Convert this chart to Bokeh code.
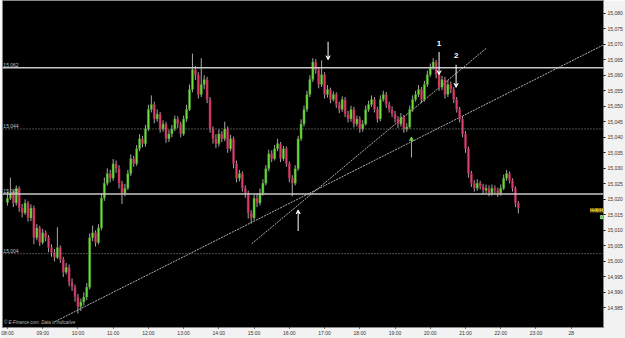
from bokeh.plotting import figure
from bokeh.models import (Span, Label, ColumnDataSource, FixedTicker, NumeralTickFormatter,
                          Arrow, VeeHead)
from bokeh.embed import file_html
from bokeh.resources import INLINE

# 5-minute candles starting 08:00
open_ = [15019.0,15020.4,15022.0,15018.8,15023.6,15017.2,15015.6,15018.8,15014.0,15017.2,
15007.6,15010.8,15006.1,15009.2,15007.6,15004.5,15002.9,15001.3,15004.5,15000.6,
14996.5,14998.1,14993.3,14991.7,14988.5,14985.4,14986.9,14988.5,14991.7,15007.6,
15009.2,15006.1,15010.8,15020.4,15025.2,15028.3,15026.8,15031.5,15029.9,15025.2,
15022.0,15023.6,15028.3,15033.1,15031.5,15036.3,15039.5,15037.9,15042.7,15049.0,
15050.6,15045.9,15047.5,15042.7,15044.3,15039.5,15041.1,15042.7,15045.9,15044.3,
15041.1,15045.9,15049.0,15055.4,15061.8,15060.2,15053.8,15057.0,15058.6,15052.2,
15042.7,15039.5,15037.9,15041.1,15039.5,15042.7,15036.3,15039.5,15031.5,15026.8,
15028.3,15023.6,15022.0,15015.6,15014.0,15020.4,15018.8,15022.0,15025.2,15029.9,
15034.7,15033.1,15036.3,15037.9,15033.1,15036.3,15031.5,15026.8,15025.2,15029.9,
15039.5,15044.3,15049.0,15053.8,15058.6,15064.3,15061.8,15057.0,15060.2,15053.8,
15055.4,15052.2,15053.8,15050.6,15049.0,15052.2,15047.5,15045.9,15049.0,15044.3,
15045.9,15042.7,15044.3,15049.0,15050.6,15052.2,15049.0,15045.9,15052.2,15053.8,
15050.6,15049.0,15047.5,15045.9,15044.3,15046.5,15042.7,15043.3,15049.0,15052.2,
15053.8,15055.4,15052.2,15057.0,15060.2,15062.4,15064.3,15060.2,15056.1,15058.6,
15053.8,15057.0,15055.4,15052.2,15049.0,15045.9,15041.1,15036.3,15028.3,15025.2,
15023.6,15025.2,15024.2,15022.9,15023.6,15022.0,15023.6,15022.9,15022.0,15023.6,
15026.8,15028.3,15026.1,15023.6,15018.8]
high = [15022.5,15027.0,15023.0,15024.5,15024.2,15018.5,15020.0,15019.5,15018.4,15018.0,
15012.0,15011.5,15010.5,15010.0,15008.5,15005.5,15004.0,15011.0,15005.2,15001.5,
14999.5,14999.0,14994.5,14992.5,14989.5,14988.0,14990.0,14993.0,15009.0,15011.5,
15010.0,15012.0,15022.0,15027.0,15030.0,15029.5,15033.0,15032.5,15031.0,15026.0,
15025.0,15029.5,15034.5,15034.0,15037.5,15041.0,15040.5,15044.0,15050.5,15053.5,
15051.5,15049.0,15048.2,15045.5,15045.0,15042.5,15044.0,15047.0,15046.8,15045.0,
15047.0,15050.5,15057.0,15067.0,15063.0,15061.0,15065.5,15060.0,15059.5,15053.0,
15043.5,15041.0,15042.5,15042.0,15045.0,15043.5,15040.8,15040.2,15032.5,15029.5,
15029.0,15024.5,15022.8,15016.5,15021.5,15021.8,15023.5,15026.5,15031.0,15036.0,
15035.8,15037.5,15039.5,15038.5,15037.2,15037.0,15032.2,15027.8,15031.0,15040.5,
15045.8,15050.2,15055.0,15060.0,15065.5,15065.2,15062.5,15064.8,15061.0,15056.8,
15056.0,15054.8,15054.5,15051.5,15053.2,15053.0,15048.5,15050.2,15049.8,15047.0,
15046.8,15045.5,15050.2,15051.8,15053.5,15053.0,15049.8,15053.5,15055.0,15054.6,
15051.5,15050.0,15048.5,15046.8,15047.8,15047.2,15044.5,15050.2,15053.5,15055.0,
15056.8,15056.2,15058.2,15061.5,15063.8,15065.5,15065.0,15061.0,15059.8,15059.5,
15058.5,15058.0,15056.2,15053.0,15049.8,15046.8,15042.0,15037.0,15029.2,15026.2,
15026.5,15026.0,15025.0,15024.8,15024.5,15024.8,15024.5,15023.8,15024.8,15028.0,
15029.5,15029.0,15026.8,15024.2,15019.5]
low = [15018.0,15019.8,15017.5,15018.0,15016.0,15014.2,15015.0,15012.8,15013.0,15005.5,
15006.8,15005.0,15005.5,15006.5,15003.0,15001.5,15000.0,15000.8,14999.5,14995.0,
14995.8,14992.0,14990.5,14987.0,14983.2,14984.0,14985.8,14987.5,14991.0,15006.5,
15004.8,15005.5,15010.0,15019.5,15024.5,15025.5,15026.0,15028.5,15023.5,15018.5,
15021.0,15023.0,15027.5,15030.5,15030.8,15035.5,15036.8,15037.0,15042.0,15048.0,
15044.5,15045.0,15041.5,15041.8,15038.2,15038.5,15040.0,15042.0,15043.0,15040.0,
15040.5,15045.0,15048.5,15054.5,15058.5,15052.5,15053.0,15055.5,15051.0,15041.5,
15038.0,15036.5,15037.0,15038.5,15038.8,15035.0,15035.5,15030.0,15025.5,15025.8,
15022.5,15020.5,15013.8,15012.2,15013.2,15017.5,15018.0,15021.2,15024.5,15029.0,
15032.0,15032.5,15035.5,15032.0,15032.4,15030.5,15025.5,15021.0,15024.5,15029.2,
15038.8,15043.5,15048.2,15053.0,15057.8,15060.5,15055.8,15056.2,15052.5,15052.8,
15051.0,15051.5,15049.5,15047.8,15048.2,15046.5,15044.8,15045.0,15043.2,15043.5,
15041.5,15041.8,15043.8,15048.2,15049.8,15048.0,15044.8,15045.2,15051.5,15049.5,
15048.0,15046.5,15044.8,15043.0,15043.5,15041.5,15041.8,15042.8,15048.2,15051.5,
15053.0,15051.0,15051.5,15056.2,15059.5,15061.8,15059.0,15055.0,15055.2,15052.5,
15053.0,15054.2,15051.0,15048.0,15044.8,15040.0,15035.0,15027.0,15024.0,15022.5,
15022.8,15023.2,15021.8,15022.0,15021.0,15021.2,15021.8,15020.8,15021.2,15023.0,
15026.0,15025.2,15022.5,15017.5,15015.5]
close = [15020.4,15022.0,15018.8,15023.6,15017.2,15015.6,15018.8,15014.0,15017.2,15007.6,
15010.8,15006.1,15009.2,15007.6,15004.5,15002.9,15001.3,15004.5,15000.6,14996.5,
14998.1,14993.3,14991.7,14988.5,14985.4,14986.9,14988.5,14991.7,15007.6,15009.2,
15006.1,15010.8,15020.4,15025.2,15028.3,15026.8,15031.5,15029.9,15025.2,15022.0,
15023.6,15028.3,15033.1,15031.5,15036.3,15039.5,15037.9,15042.7,15049.0,15050.6,
15045.9,15047.5,15042.7,15044.3,15039.5,15041.1,15042.7,15045.9,15044.3,15041.1,
15045.9,15049.0,15055.4,15061.8,15060.2,15053.8,15057.0,15058.6,15052.2,15042.7,
15039.5,15037.9,15041.1,15039.5,15042.7,15036.3,15039.5,15031.5,15026.8,15028.3,
15023.6,15022.0,15015.6,15014.0,15020.4,15018.8,15022.0,15025.2,15029.9,15034.7,
15033.1,15036.3,15037.9,15033.1,15036.3,15031.5,15026.8,15025.2,15029.9,15039.5,
15044.3,15049.0,15053.8,15058.6,15064.3,15061.8,15057.0,15060.2,15053.8,15055.4,
15052.2,15053.8,15050.6,15049.0,15052.2,15047.5,15045.9,15049.0,15044.3,15045.9,
15042.7,15044.3,15049.0,15050.6,15052.2,15049.0,15045.9,15052.2,15053.8,15050.6,
15049.0,15047.5,15045.9,15044.3,15046.5,15042.7,15043.3,15049.0,15052.2,15053.8,
15055.4,15052.2,15057.0,15060.2,15062.4,15064.3,15060.2,15056.1,15058.6,15053.8,
15057.0,15055.4,15052.2,15049.0,15045.9,15041.1,15036.3,15028.3,15025.2,15023.6,
15025.2,15024.2,15022.9,15023.6,15022.0,15023.6,15022.9,15022.0,15023.6,15026.8,
15028.3,15026.1,15023.6,15018.8,15017.2]
minutes = [5 * i for i in range(len(close))]

hour_ticks = [60 * h for h in range(17)]
hour_labels = ["08:00", "09:00", "10:00", "11:00", "12:00", "13:00", "14:00", "15:00", "16:00",
               "17:00", "18:00", "19:00", "20:00", "21:00", "22:00", "23:00", "28"]
price_ticks = [14985 + 5 * i for i in range(20)]
levels_solid = [15062.4, 15021.7]
levels_dotted = [15042.7, 15002.5]
level_labels = {15062.4: "15,062", 15042.7: "15,044", 15021.7: "15,025", 15002.5: "15,004"}
trend_long = ([81, 1014], [14980.6, 15069.7])
trend_steep = ([416, 816], [15005.7, 15068.8])
last_price = 15016.5

up = [c >= o for o, c in zip(open_, close)]
src = ColumnDataSource(dict(
    t=minutes, o=open_, h=high, l=low, c=close,
    top=[max(o, c) for o, c in zip(open_, close)],
    bot=[min(o, c) for o, c in zip(open_, close)],
    col=["#6fe040" if u else "#e0406c" for u in up],
    edge=["#3f8a25" if u else "#8a2040" for u in up],
))

p = figure(width=625, height=338, x_range=(-8.45, 1015), y_range=(14978.7, 15084.1),
           y_axis_location="right", output_backend="svg", toolbar_location=None,
           background_fill_color="black", border_fill_color="#f2f2f2",
           min_border_left=2, min_border_top=0, min_border_right=0, min_border_bottom=0,
           outline_line_color="#888888")
p.grid.visible = False

for v in levels_solid:
    p.add_layout(Span(location=v, dimension="width", line_color="#c8c8c8", line_width=1.5))
for v in levels_dotted:
    p.add_layout(Span(location=v, dimension="width", line_color="#9a9a9a", line_width=1,
                      line_dash="1 2"))
for v, s in level_labels.items():
    p.add_layout(Label(x=-7, y=v, text=s, text_color="#c0c0c0", text_font_size="5px",
                       y_offset=1, text_font="Arial"))

p.line(trend_long[0], trend_long[1], line_color="#dddddd", line_width=0.8, line_dash="2 1")
p.line(trend_steep[0], trend_steep[1], line_color="#dddddd", line_width=0.8, line_dash="2 1")

p.segment("t", "h", "t", "l", source=src, line_color="#a8a8a8", line_width=1)
p.vbar(x="t", width=3.6, top="top", bottom="bot", source=src, fill_color="col",
       line_color="edge", line_width=0.5)

arrows = [(546, 15070.8, 15065.0, "white"), (495, 15009.8, 15016.6, "white"),
          (735, 15067.5, 15060.2, "white"), (764, 15063.4, 15056.1, "white"),
          (688, 15033.5, 15040.1, "#6fe040")]
for x, y0, y1, c in arrows:
    p.add_layout(Arrow(x_start=x, y_start=y0, x_end=x, y_end=y1, line_color=c, line_width=1,
                       end=VeeHead(size=4, line_color=c, fill_color=c)))
p.add_layout(Label(x=735, y=15069.5, text="1", text_color="white", text_font_size="8px",
                   text_font_style="bold", text_align="center", text_font="Arial"))
p.add_layout(Label(x=764, y=15065.5, text="2", text_color="white", text_font_size="8px",
                   text_font_style="bold", text_align="center", text_font="Arial"))
p.add_layout(Label(x=-6, y=14979.5, text="© E-Finance.com. Data is indicative",
                   text_color="#bbbbbb", text_font_size="4.5px", text_font="Arial",
                   text_font_style="italic"))

p.yaxis.ticker = FixedTicker(ticks=price_ticks)
p.yaxis.formatter = NumeralTickFormatter(format="0,0")
p.yaxis.major_label_text_font_size = "5px"
p.yaxis.major_label_text_color = "#333333"
p.yaxis.major_tick_out = 2
p.yaxis.major_tick_in = 0
p.yaxis.minor_tick_out = 0
p.yaxis.minor_tick_in = 0
p.yaxis.major_label_standoff = 2
p.yaxis.axis_line_color = "#888888"

p.xaxis.ticker = FixedTicker(ticks=hour_ticks)
p.xaxis.major_label_overrides = {t: s for t, s in zip(hour_ticks, hour_labels)}
p.xaxis.major_label_text_font_size = "5px"
p.xaxis.major_label_text_color = "#333333"
p.xaxis.major_tick_out = 1
p.xaxis.major_tick_in = 0
p.xaxis.minor_tick_out = 0
p.xaxis.minor_tick_in = 0
p.xaxis.major_label_standoff = 1
p.xaxis.axis_line_color = "#888888"

p.add_layout(Label(x=603, y=last_price, x_units="screen", text="15,016", text_font_size="5px",
                   background_fill_color="#e8c020", text_color="#222222", text_baseline="middle",
                   text_align="right", text_font="Arial"))
p.add_layout(Label(x=603, y=last_price, y_offset=-7, x_units="screen", text="03",
                   text_font_size="5px", background_fill_color="#3aa83a", text_color="#ffffff",
                   text_baseline="middle", text_align="right", text_font="Arial"))

open("out.html", "w").write(file_html(p, INLINE))
